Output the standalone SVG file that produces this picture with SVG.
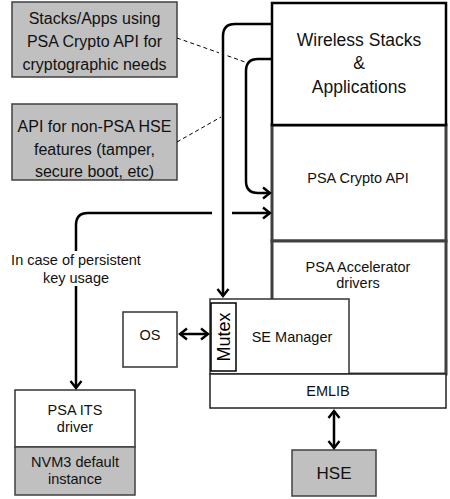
<svg xmlns="http://www.w3.org/2000/svg" width="450" height="499" viewBox="0 0 450 499">
<style>
text{font-family:"Liberation Sans",Arial,sans-serif;font-size:14.5px;fill:#111;text-anchor:middle}
.cal{font-size:16px}
.big{font-size:17.5px}
.gray{fill:#c0c0c0;stroke:#404040;stroke-width:1.5}
.wht{fill:#fff;stroke:#333;stroke-width:1.5}
.thick{fill:#fff;stroke:#404040;stroke-width:3}
.conn{fill:none;stroke:#000;stroke-width:2.5}
.dash{fill:none;stroke:#000;stroke-width:1;stroke-dasharray:4,3}
</style>
<defs>
<marker id="ah" markerUnits="userSpaceOnUse" markerWidth="12" markerHeight="14" refX="8" refY="6" orient="auto-start-reverse" viewBox="-1 -1 12 14">
<path d="M1,0.5 L8,6 L1,11.5" fill="none" stroke="#000" stroke-width="2.4"/>
</marker>
</defs>
<g id="stacks-apps"><rect class="gray" x="12" y="2" width="165" height="75"/>
<text class="cal" x="94.5" y="24">Stacks/Apps using</text>
<text class="cal" x="94.5" y="47">PSA Crypto API for</text>
<text class="cal" x="94.5" y="70">cryptographic needs</text></g>
<g id="non-psa-api"><rect class="gray" x="12" y="104" width="165" height="76"/>
<text class="cal" x="94.5" y="132">API for non-PSA HSE</text>
<text class="cal" x="94.5" y="155">features (tamper,</text>
<text class="cal" x="94.5" y="177">secure boot, etc)</text></g>
<g id="psa-crypto-api"><rect class="thick" x="272" y="125" width="174" height="116"/>
<text x="358" y="183">PSA Crypto API</text></g>
<g id="psa-accel"><rect class="thick" x="272" y="241" width="174" height="133"/>
<text x="358" y="272">PSA Accelerator</text>
<text x="358" y="288">drivers</text></g>
<g id="wireless"><rect x="272" y="3" width="174" height="122" fill="#fff" stroke="#000" stroke-width="2.5"/>
<text class="big" x="359" y="46">Wireless Stacks</text>
<text class="big" x="359" y="69">&amp;</text>
<text class="big" x="359" y="93">Applications</text></g>
<g id="se-manager"><rect class="wht" x="210" y="299" width="139" height="75"/>
<text x="292" y="342">SE Manager</text></g>
<g id="mutex"><rect x="211" y="303" width="25" height="68" fill="#fff" stroke="#000" stroke-width="1.5"/>
<text class="big" transform="translate(230,337) rotate(-90)" x="0" y="0" style="fill:#000;font-size:18px">Mutex</text></g>
<g id="emlib"><rect x="210" y="374" width="236" height="34" fill="#fff" stroke="#222" stroke-width="1.5"/>
<text x="328" y="396">EMLIB</text></g>
<g id="hse"><rect class="gray" x="292" y="450" width="84" height="46"/>
<text x="334" y="479" style="font-size:17px">HSE</text></g>
<g id="os"><rect class="wht" x="123" y="312" width="54" height="55"/>
<text x="150" y="339.5">OS</text></g>
<g id="psa-its"><rect class="wht" x="15" y="390" width="120" height="57"/>
<text x="75" y="415">PSA ITS</text>
<text x="75" y="432">driver</text></g>
<g id="nvm3"><rect class="gray" x="15" y="447" width="120" height="48"/>
<text x="75" y="467">NVM3 default</text>
<text x="75" y="484">instance</text></g>
<g id="connectors">
<path class="dash" d="M177,38 L219,52.8 M227.5,55.8 L245,62"/>
<path class="dash" d="M177,142 L221,117"/>
<path class="conn" d="M272,24 H235 Q223,24 223,36 V296" marker-end="url(#ah)"/>
<path class="conn" d="M272,59 H258 Q246,59 246,71 V181 Q246,193 258,193 H270" marker-end="url(#ah)"/>
<path class="conn" d="M232,213 H270" marker-end="url(#ah)"/>
<path class="conn" d="M212,213 H88 Q76,213 76,225 V251"/>
<path class="conn" d="M76,286 V388" marker-end="url(#ah)"/>
<text x="76" y="265">In case of persistent</text>
<text x="76" y="283">key usage</text>
<path class="conn" d="M180,334 H208" marker-start="url(#ah)" marker-end="url(#ah)"/>
<path class="conn" d="M334,411 V448" marker-start="url(#ah)" marker-end="url(#ah)"/>
</g>
</svg>
